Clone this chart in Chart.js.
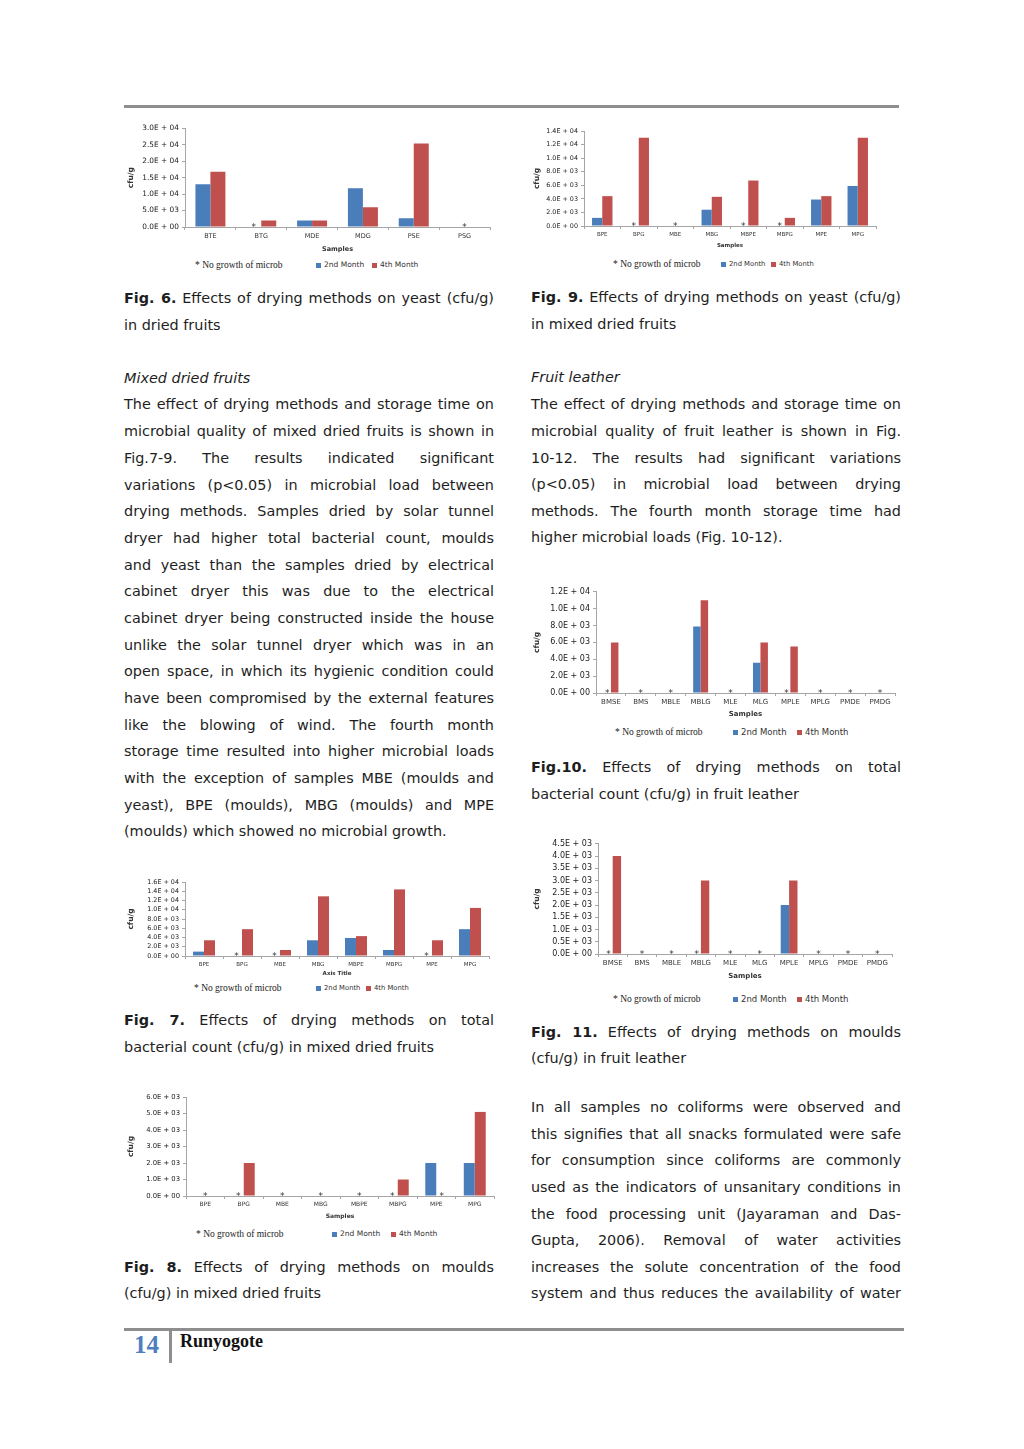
<!DOCTYPE html>
<html>
<head>
<meta charset="utf-8">
<title>Runyogote 14</title>
<script src="https://cdn.jsdelivr.net/npm/chart.js@4.4.1/dist/chart.umd.min.js"></script>
<style>
  html, body { margin: 0; padding: 0; background: #fff; }
  body { position: relative; width: 1024px; height: 1449px; overflow: hidden;
         font-family: "DejaVu Sans", Verdana, sans-serif; color: #1e1e1e; }
  .rule { position: absolute; background: #8e8e8e; }
  .ln { position: absolute; font-size: 14.4px; line-height: 18px; white-space: nowrap; }
  .cv { position: absolute; }
  .lg { position: absolute; font-size: 7.5px; color: #333; white-space: nowrap; line-height: 10px; }
  .ng { position: absolute; font-family: "Liberation Serif", serif; font-size: 9.5px; color: #222; white-space: nowrap; line-height: 10px; }
  .sw { position: absolute; width: 5px; height: 5px; }
  .foot { position: absolute; font-family: "Liberation Serif", serif; font-weight: bold; }
</style>
</head>
<body>

<div class="rule" style="left:124px;top:105px;width:775px;height:3px"></div>
<div class="rule" style="left:124px;top:1328px;width:780px;height:3px"></div>
<div class="rule" style="left:169px;top:1330px;width:3px;height:33px"></div>
<div class="foot" style="left:134px;top:1331px;font-size:25px;color:#4f7fbf">14</div>
<div class="foot" style="left:180px;top:1331px;font-size:18px;color:#111">Runyogote</div>

<canvas id="fig6" class="cv"></canvas>
<canvas id="fig9" class="cv"></canvas>
<canvas id="fig7" class="cv"></canvas>
<canvas id="fig8" class="cv"></canvas>
<canvas id="fig10" class="cv"></canvas>
<canvas id="fig11" class="cv"></canvas>

<script>
// ---- data (cfu/g), 0 = no growth of microb ----
const driedLabels = ['BTE', 'BTG', 'MDE', 'MDG', 'PSE', 'PSG'];
const fig6Month2 = [13000, 0, 2000, 11800, 2700, 0];
const fig6Month4 = [16800, 2000, 2000, 6000, 25400, 0];

const mixedLabels = ['BPE', 'BPG', 'MBE', 'MBG', 'MBPE', 'MBPG', 'MPE', 'MPG'];
const fig7Month2 = [950, 0, 0, 3400, 3900, 1300, 0, 5800];
const fig7Month4 = [3400, 5800, 1300, 12900, 4300, 14400, 3400, 10400];
const fig8Month2 = [0, 0, 0, 0, 0, 0, 2000, 2000];
const fig8Month4 = [0, 2000, 0, 0, 0, 1000, 0, 5100];
const fig9Month2 = [1200, 0, 0, 2400, 0, 0, 3900, 5900];
const fig9Month4 = [4400, 13000, 0, 4300, 6700, 1200, 4400, 13000];

const leatherLabels = ['BMSE', 'BMS', 'MBLE', 'MBLG', 'MLE', 'MLG', 'MPLE', 'MPLG', 'PMDE', 'PMDG'];
const fig10Month2 = [0, 0, 0, 7900, 0, 3600, 0, 0, 0, 0];
const fig10Month4 = [6000, 0, 0, 11000, 0, 6000, 5500, 0, 0, 0];
const fig11Month2 = [0, 0, 0, 0, 0, 0, 2000, 0, 0, 0];
const fig11Month4 = [4000, 0, 0, 3000, 0, 0, 3000, 0, 0, 0];

// y axis ranges [max, step]
const fig6Axis = [30000, 5000];
const fig7Axis = [16000, 2000];
const fig8Axis = [6000, 1000];
const fig9Axis = [14000, 2000];
const fig10Axis = [12000, 2000];
const fig11Axis = [4500, 500];

const seriesNames = ['2nd Month', '4th Month'];
const BLUE = '#4a7ebb', RED = '#c0504d';

// excel style "3.0E + 04"
function sci(v, fixedExp) {
  if (v === 0) return '0.0E + 00';
  let e = fixedExp !== undefined ? fixedExp : Math.floor(Math.log10(v) + 1e-9);
  let m = (v / Math.pow(10, e)).toFixed(1);
  return m + 'E + ' + String(e).padStart(2, '0');
}

// asterisk where a series had no growth
const noGrowthMarks = {
  id: 'noGrowthMarks',
  afterDatasetsDraw(chart) {
    const ctx = chart.ctx, xs = chart.scales.x, ys = chart.scales.y;
    const a = chart.getDatasetMeta(0).data, b = chart.getDatasetMeta(1).data;
    const d0 = chart.data.datasets[0].data, d1 = chart.data.datasets[1].data;
    ctx.save();
    ctx.fillStyle = '#333';
    ctx.font = '9px "DejaVu Sans"';
    ctx.textAlign = 'center';
    d0.forEach((v, i) => {
      let x = null;
      if (v === 0 && d1[i] === 0) x = xs.getPixelForValue(i);
      else if (v === 0) x = a[i].x;
      else if (d1[i] === 0) x = b[i].x;
      if (x !== null) ctx.fillText('*', x, ys.getPixelForValue(0) + 3);
    });
    ctx.restore();
  }
};

function drawFig(id, labels, m2, m4, axis, box) {
  const cv = document.getElementById(id);
  const padTop = 7, padRight = 6;
  const w = box.right - box.cl + padRight;
  const h = box.titleY + 6 - box.top + padTop;
  cv.width = w; cv.height = h;
  cv.style.left = box.cl + 'px';
  cv.style.top = (box.top - padTop) + 'px';
  cv.style.width = w + 'px'; cv.style.height = h + 'px';

  new Chart(cv.getContext('2d'), {
    type: 'bar',
    data: {
      labels: labels,
      datasets: [
        { label: seriesNames[0], data: m2, backgroundColor: BLUE, borderWidth: 0 },
        { label: seriesNames[1], data: m4, backgroundColor: RED, borderWidth: 0 }
      ]
    },
    options: {
      responsive: false,
      animation: false,
      devicePixelRatio: 1,
      layout: { padding: { top: padTop, right: padRight, left: 0, bottom: 0 } },
      plugins: { legend: { display: false }, tooltip: { enabled: false } },
      datasets: { bar: { categoryPercentage: box.cat, barPercentage: 1 } },
      scales: {
        x: {
          grid: { display: true, drawOnChartArea: false, drawTicks: true, tickLength: 3, color: '#a6a6a6' },
          border: { color: '#a6a6a6' },
          ticks: { color: '#333', font: { family: 'DejaVu Sans', size: box.fx }, padding: 2,
                   maxRotation: 0, autoSkip: false },
          title: { display: true, text: box.xTitle || 'Samples', color: '#333',
                   font: { family: 'DejaVu Sans', size: box.fx, weight: 'bold' }, padding: { top: 0, bottom: 2 } },
          afterFit: s => { s.height = box.titleY + 6 - box.zero; }
        },
        y: {
          min: 0, max: axis[0],
          grid: { display: true, drawOnChartArea: false, drawTicks: true, tickLength: 3, color: '#a6a6a6' },
          border: { color: '#a6a6a6' },
          ticks: { stepSize: axis[1], autoSkip: false, color: '#222', padding: 3,
                   font: { family: 'DejaVu Sans', size: box.fy },
                   callback: v => sci(v, box.exp) },
          title: { display: true, text: 'cfu/g', color: '#333',
                   font: { family: 'DejaVu Sans', size: 7.5, weight: 'bold' }, padding: { top: 3, bottom: 0 } },
          afterFit: s => { s.width = box.axisX - box.cl; }
        }
      }
    },
    plugins: [noGrowthMarks]
  });
}

drawFig('fig6', driedLabels, fig6Month2, fig6Month4, fig6Axis,
  { cl: 124, axisX: 185, right: 490, top: 128, zero: 227, titleY: 249, cat: 0.59, fx: 6.5, fy: 7.4 });
drawFig('fig9', mixedLabels, fig9Month2, fig9Month4, fig9Axis,
  { cl: 530, axisX: 584, right: 876, top: 131, zero: 226, titleY: 245, cat: 0.56, fx: 5.5, fy: 6.4 });
drawFig('fig7', mixedLabels, fig7Month2, fig7Month4, fig7Axis,
  { cl: 124, axisX: 185, right: 489, top: 882, zero: 956, titleY: 973, cat: 0.58, xTitle: 'Axis Title', fx: 5.5, fy: 6.4 });
drawFig('fig8', mixedLabels, fig8Month2, fig8Month4, fig8Axis,
  { cl: 124, axisX: 186, right: 494, top: 1097, zero: 1196, titleY: 1216, cat: 0.57, fx: 6, fy: 6.8 });
drawFig('fig10', leatherLabels, fig10Month2, fig10Month4, fig10Axis,
  { cl: 530, axisX: 596, right: 895, top: 591, zero: 693, titleY: 714, cat: 0.5, fx: 7, fy: 8 });
drawFig('fig11', leatherLabels, fig11Month2, fig11Month4, fig11Axis,
  { cl: 530, axisX: 598, right: 892, top: 843, zero: 954, titleY: 976, cat: 0.57, fx: 7, fy: 8, exp: 3 });

// legends under each chart: [x star, x blue, x red, y, font size]
const legends = [
  [195, 316, 372, 265, 7.5], [613, 721, 771, 264, 6.8], [194, 316, 366, 988, 6.8],
  [196, 332, 391, 1234, 7.5], [615, 733, 797, 732, 8.5], [613, 733, 797, 999, 8.5]
];
legends.forEach(([xs, xb, xr, y, fs]) => {
  const add = (cls, x, txt, css) => {
    const d = document.createElement('div');
    d.className = cls; d.style.left = x + 'px'; d.style.top = (y - 5) + 'px';
    if (txt) d.textContent = txt;
    if (css) Object.assign(d.style, css);
    document.body.appendChild(d);
  };
  add('ng', xs, '*  No growth of microb');
  add('sw', xb, '', { background: BLUE, top: (y - 2.5) + 'px' });
  add('lg', xb + 8, seriesNames[0], { fontSize: fs + 'px' });
  add('sw', xr, '', { background: RED, top: (y - 2.5) + 'px' });
  add('lg', xr + 8, seriesNames[1], { fontSize: fs + 'px' });
});

// body text: [column x, centre y, html, justified]
const L = 124, R = 531, COLW = 370;
const lines = [
  [L, 298, '<b>Fig. 6.</b> Effects of drying methods on yeast (cfu/g)', 1],
  [L, 325, 'in dried fruits', 0],
  [L, 378, '<i>Mixed dried fruits</i>', 0],
  [L, 404, 'The effect of drying methods and storage time on', 1],
  [L, 431, 'microbial quality of mixed dried fruits is shown in', 1],
  [L, 458, 'Fig.7-9. The results indicated significant', 1],
  [L, 485, 'variations (p&lt;0.05) in microbial load between', 1],
  [L, 511, 'drying methods. Samples dried by solar tunnel', 1],
  [L, 538, 'dryer had higher total bacterial count, moulds', 1],
  [L, 565, 'and yeast than the samples dried by electrical', 1],
  [L, 591, 'cabinet dryer this was due to the electrical', 1],
  [L, 618, 'cabinet dryer being constructed inside the house', 1],
  [L, 645, 'unlike the solar tunnel dryer which was in an', 1],
  [L, 671, 'open space, in which its hygienic condition could', 1],
  [L, 698, 'have been compromised by the external features', 1],
  [L, 725, 'like the blowing of wind. The fourth month', 1],
  [L, 751, 'storage time resulted into higher microbial loads', 1],
  [L, 778, 'with the exception of samples MBE (moulds and', 1],
  [L, 805, 'yeast), BPE (moulds), MBG (moulds) and MPE', 1],
  [L, 831, '(moulds) which showed no microbial growth.', 0],
  [L, 1020, '<b>Fig. 7.</b> Effects of drying methods on total', 1],
  [L, 1047, 'bacterial count (cfu/g) in mixed dried fruits', 0],
  [L, 1267, '<b>Fig. 8.</b> Effects of drying methods on moulds', 1],
  [L, 1293, '(cfu/g) in mixed dried fruits', 0],
  [R, 297, '<b>Fig. 9.</b> Effects of drying methods on yeast (cfu/g)', 1],
  [R, 324, 'in mixed dried fruits', 0],
  [R, 377, '<i>Fruit leather</i>', 0],
  [R, 404, 'The effect of drying methods and storage time on', 1],
  [R, 431, 'microbial quality of fruit leather is shown in Fig.', 1],
  [R, 458, '10-12. The results had significant variations', 1],
  [R, 484, '(p&lt;0.05) in microbial load between drying', 1],
  [R, 511, 'methods. The fourth month storage time had', 1],
  [R, 537, 'higher microbial loads (Fig. 10-12).', 0],
  [R, 767, '<b>Fig.10.</b> Effects of drying methods on total', 1],
  [R, 794, 'bacterial count (cfu/g) in fruit leather', 0],
  [R, 1032, '<b>Fig. 11.</b> Effects of drying methods on moulds', 1],
  [R, 1058, '(cfu/g) in fruit leather', 0],
  [R, 1107, 'In all samples no coliforms were observed and', 1],
  [R, 1134, 'this signifies that all snacks formulated were safe', 1],
  [R, 1160, 'for consumption since coliforms are commonly', 1],
  [R, 1187, 'used as the indicators of unsanitary conditions in', 1],
  [R, 1214, 'the food processing unit (Jayaraman and Das-', 1],
  [R, 1240, 'Gupta, 2006). Removal of water activities', 1],
  [R, 1267, 'increases the solute concentration of the food', 1],
  [R, 1293, 'system and thus reduces the availability of water', 1]
];
lines.forEach(([x, y, html, just]) => {
  const d = document.createElement('div');
  d.className = 'ln';
  d.style.left = x + 'px';
  d.style.top = (y - 9) + 'px';
  d.innerHTML = html;
  document.body.appendChild(d);
  if (just) {
    const gaps = (d.textContent.match(/ /g) || []).length;
    const extra = COLW - d.getBoundingClientRect().width;
    if (gaps) d.style.wordSpacing = (extra / gaps) + 'px';
  }
});
</script>
</body>
</html>
